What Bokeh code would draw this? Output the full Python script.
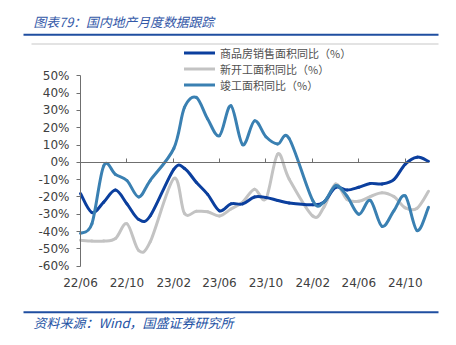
import numpy as np
import pandas as pd
from bokeh.plotting import figure
from bokeh.models import (Range1d, FixedTicker, DatetimeTickFormatter, Label,
                          Legend, LegendItem, BoxAnnotation, PrintfTickFormatter,
                          ColumnDataSource, LinearAxis, DatetimeAxis)
from bokeh.embed import file_html
from bokeh.resources import INLINE

# ---------------- data ----------------
months = ["2022-06", "2022-07", "2022-08", "2022-09", "2022-10", "2022-11", "2022-12",
          "2023-02", "2023-03", "2023-04", "2023-05", "2023-06", "2023-07", "2023-08",
          "2023-09", "2023-10", "2023-11", "2023-12",
          "2024-02", "2024-03", "2024-04", "2024-05", "2024-06", "2024-07", "2024-08",
          "2024-09", "2024-10", "2024-11", "2024-12"]

sales_area = [-18, -29, -23, -16, -24, -33, -31,
              -4, -3.5, -11.5, -18.5, -28, -24, -24, -20, -20.3, -22, -23.5,
              -24.5, -23, -14.5, -16, -14.4, -12.2, -12.5, -10, -1, 3, 0.6]

new_starts = [-45, -45.5, -45.5, -44, -35.5, -51, -46,
              -9.4, -29.5, -28.3, -28.5, -31, -27, -23, -15.5, -21, 4.8, -9.6,
              -31, -26, -12.5, -21.5, -22.5, -19.8, -17.5, -19.8, -26.3, -26.5, -16.7]

completions = [-41, -35.5, -2, -7, -10.5, -20, -10.5,
               8, 31.7, 37.5, 25, 15.4, 32.7, 10.2, 24, 14.8, 10.6, 13.8,
               -22, -23, -13.5, -19.5, -30, -22, -37, -28, -19.4, -39.4, -26]

series_names = ["商品房销售面积同比（%）", "新开工面积同比（%）", "竣工面积同比（%）"]
x_tick_labels = ["22/06", "22/10", "23/02", "23/06", "23/10", "24/02", "24/06", "24/10"]
y_ticks = [50, 40, 30, 20, 10, 0, -10, -20, -30, -40, -50, -60]

title_text = "图表79：国内地产月度数据跟踪"
source_text = "资料来源：Wind，国盛证券研究所"

# ---------------- helpers ----------------
dates = pd.to_datetime(months, format="%Y-%m")
xms = np.array([d.value // 10**6 for d in dates], dtype=float)
tick_dates = pd.to_datetime(["20" + s for s in x_tick_labels], format="%Y/%m")
tick_ms = [int(d.value // 10**6) for d in tick_dates]


def smooth_source(x, y):
    """Cubic Bezier segments through the data points (Excel-like smoothed line)."""
    y = np.asarray(y, dtype=float)
    n = len(x)
    i = np.arange(n - 1)
    im1 = np.maximum(i - 1, 0)
    ip2 = np.minimum(i + 2, n - 1)
    return ColumnDataSource(dict(
        x0=x[i], y0=y[i], x1=x[i + 1], y1=y[i + 1],
        cx0=x[i] + (x[i + 1] - x[im1]) / 6, cy0=y[i] + (y[i + 1] - y[im1]) / 6,
        cx1=x[i + 1] - (x[ip2] - x[i]) / 6, cy1=y[i + 1] - (y[ip2] - y[i]) / 6))


C_SALES = "#0b3f9e"
C_NEW = "#c3c3c3"
C_COMP = "#3a80b2"
C_TEXT = "#404040"
C_AXIS = "#6f6f6f"
C_BRAND = "#1f4ea0"

W, H = 456, 345
# plot area in canvas pixels
PX_L, PX_R = 80.0, 428.0       # first / last month
PY_TOP, PY_BOT = 75.3, 265.7   # 50% / -60%
Y_HI, Y_LO = 50, -60

mpp = (xms[-1] - xms[0]) / (PX_R - PX_L)
upp = (Y_HI - Y_LO) / (PY_BOT - PY_TOP)
x_range = Range1d(xms[0] - PX_L * mpp, xms[-1] + (W - PX_R) * mpp)
y_range = Range1d(Y_LO - (H - PY_BOT) * upp, Y_HI + PY_TOP * upp)

p = figure(width=W, height=H, output_backend="svg", toolbar_location=None,
           x_range=x_range, y_range=y_range, title=None,
           x_axis_location=None, y_axis_location=None, min_border=0)
p.outline_line_color = None
p.grid.visible = False
p.background_fill_color = "white"
p.border_fill_color = "white"

# lines
r_new = p.bezier(source=smooth_source(xms, new_starts), x0="x0", y0="y0", x1="x1", y1="y1",
                 cx0="cx0", cy0="cy0", cx1="cx1", cy1="cy1",
                 line_color=C_NEW, line_width=3, line_cap="round")
r_sales = p.bezier(source=smooth_source(xms, sales_area), x0="x0", y0="y0", x1="x1", y1="y1",
                   cx0="cx0", cy0="cy0", cx1="cx1", cy1="cy1",
                   line_color=C_SALES, line_width=3, line_cap="round")
r_comp = p.bezier(source=smooth_source(xms, completions), x0="x0", y0="y0", x1="x1", y1="y1",
                  cx0="cx0", cy0="cy0", cx1="cx1", cy1="cy1",
                  line_color=C_COMP, line_width=3, line_cap="round")

# y axis at first month
ya = LinearAxis(fixed_location=xms[0], bounds=(Y_LO, Y_HI),
                ticker=FixedTicker(ticks=y_ticks),
                formatter=PrintfTickFormatter(format="%d%%"),
                axis_line_color=C_AXIS, major_tick_line_color=C_AXIS,
                major_tick_out=4, major_tick_in=0, minor_tick_line_color=None,
                major_label_standoff=7, major_label_text_font="DejaVu Sans",
                major_label_text_font_size="12px", major_label_text_color=C_TEXT)
p.add_layout(ya, "left")

# zero line with upward ticks
xa0 = DatetimeAxis(fixed_location=0, bounds=(xms[0], xms[-1]),
                   ticker=FixedTicker(ticks=tick_ms),
                   axis_line_color=C_AXIS, major_tick_line_color=C_AXIS,
                   major_tick_in=4, major_tick_out=0, minor_tick_line_color=None,
                   major_label_text_font_size="0px", major_label_text_color=None)
p.add_layout(xa0, "below")

# date labels under the plot
xa = DatetimeAxis(fixed_location=Y_LO, ticker=FixedTicker(ticks=tick_ms),
                  formatter=DatetimeTickFormatter(months="%y/%m", days="%y/%m", years="%y/%m"),
                  axis_line_color=None, major_tick_line_color=None,
                  major_tick_in=0, major_tick_out=0, minor_tick_line_color=None,
                  major_label_standoff=10, major_label_text_font="DejaVu Sans",
                  major_label_text_font_size="12px", major_label_text_color=C_TEXT)
p.add_layout(xa, "below")

# legend: one row per series (canvas-px row centres)
row_centres = [52.5, 68.5, 84.5]
for name, rend, yc in zip(series_names, [r_sales, r_new, r_comp], row_centres):
    lg = Legend(items=[LegendItem(label=name, renderers=[rend])],
                location=(184, H - (yc + 8)), orientation="vertical",
                padding=0, margin=0, spacing=0,
                glyph_width=31, glyph_height=15, label_height=15, label_standoff=5,
                label_text_font="Noto Sans CJK SC", label_text_font_size="11px",
                label_text_color="#505050",
                background_fill_alpha=0, border_line_color=None)
    p.add_layout(lg, "center")

# header / footer (screen units: x from left, y from bottom of canvas)
p.add_layout(Label(x=33, y=H - 20.5, x_units="screen", y_units="screen", text=title_text,
                   text_font="Noto Sans CJK SC", text_font_size="12.8px",
                   text_font_style="italic", text_color="#3358a8", text_baseline="middle"))
p.add_layout(BoxAnnotation(left=23, right=438, top=H - 33.3, bottom=H - 35.3,
                           left_units="screen", right_units="screen",
                           top_units="screen", bottom_units="screen",
                           fill_color=C_BRAND, fill_alpha=1, line_color=None))
p.add_layout(BoxAnnotation(left=31, right=438, top=H - 43, bottom=H - 44,
                           left_units="screen", right_units="screen",
                           top_units="screen", bottom_units="screen",
                           fill_color="#c8c8c8", fill_alpha=1, line_color=None))
p.add_layout(BoxAnnotation(left=23, right=438, top=H - 310.7, bottom=H - 312.7,
                           left_units="screen", right_units="screen",
                           top_units="screen", bottom_units="screen",
                           fill_color=C_BRAND, fill_alpha=1, line_color=None))
p.add_layout(Label(x=33, y=H - 321.7, x_units="screen", y_units="screen", text=source_text,
                   text_font="Noto Sans CJK SC", text_font_size="13px",
                   text_font_style="italic", text_color="#2352a4", text_baseline="middle"))

open("out.html", "w").write(file_html(p, INLINE))
